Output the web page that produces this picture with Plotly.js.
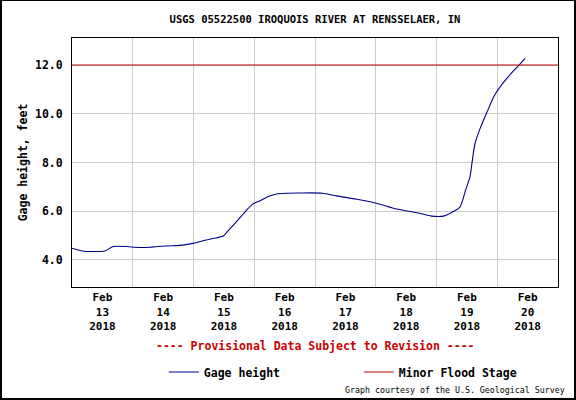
<!DOCTYPE html>
<html>
<head>
<meta charset="utf-8">
<script src="https://cdn.plot.ly/plotly-3.0.1.min.js"></script>
<style>
  html, body { margin: 0; padding: 0; background: #fff; }
  #wrap { position: relative; width: 576px; height: 400px; }
  #chart { position: absolute; left: 0; top: 0; width: 576px; height: 400px; }
  #frame { position: absolute; left: 0; top: 0; width: 576px; height: 400px; box-sizing: border-box;
           border: 2px solid #000; border-top-width: 1px; pointer-events: none; }
</style>
</head>
<body>
<div id="wrap"><div id="chart"></div><div id="frame"></div></div>
<script>
// ---- data ----
const times = [
  "2018-02-13 00:00", "2018-02-13 04:00", "2018-02-13 13:00", "2018-02-13 16:15", "2018-02-13 21:45",
  "2018-02-14 01:00", "2018-02-14 06:45", "2018-02-14 10:45", "2018-02-14 15:30", "2018-02-14 20:30",
  "2018-02-14 23:45", "2018-02-15 03:45", "2018-02-15 07:45", "2018-02-15 11:45", "2018-02-15 13:00",
  "2018-02-15 17:00", "2018-02-15 21:00", "2018-02-15 23:30", "2018-02-16 02:15", "2018-02-16 05:30",
  "2018-02-16 08:45", "2018-02-16 12:45", "2018-02-16 18:00", "2018-02-17 03:00", "2018-02-17 08:30",
  "2018-02-17 16:30", "2018-02-18 00:15", "2018-02-18 08:15", "2018-02-18 16:15", "2018-02-18 22:00",
  "2018-02-19 02:45", "2018-02-19 06:30", "2018-02-19 09:15", "2018-02-19 11:30", "2018-02-19 13:15",
  "2018-02-19 14:00", "2018-02-19 15:15", "2018-02-19 17:15", "2018-02-19 19:45", "2018-02-19 23:00",
  "2018-02-20 03:45", "2018-02-20 08:15", "2018-02-20 11:00"
];
const gageHeight = [
  4.48, 4.37, 4.37, 4.55, 4.55,
  4.52, 4.52, 4.56, 4.58, 4.62,
  4.68, 4.79, 4.88, 4.98, 5.12,
  5.57, 6.05, 6.30, 6.43, 6.60,
  6.71, 6.74, 6.75, 6.74, 6.63,
  6.49, 6.33, 6.09, 5.94, 5.80,
  5.80, 5.98, 6.17, 6.87, 7.42,
  7.97, 8.79, 9.40, 10.02, 10.77,
  11.45, 11.96, 12.27
];
const floodStage = 12.0;
const xStart = "2018-02-13 00:00";
const xEnd = "2018-02-21 00:00";
const yRange = [2.89, 13.11];
const yTicks = [4, 6, 8, 10, 12];

const titleText = "USGS 05522500 IROQUOIS RIVER AT RENSSELAER, IN";
const yTitle = "Gage height, feet";
const seriesNames = ["Gage height", "Minor Flood Stage"];
const noteText = "---- Provisional Data Subject to Revision ----";
const creditText = "Graph courtesy of the U.S. Geological Survey";

const MONO = "DejaVu Sans Mono, Liberation Mono, monospace";
const boldFont = (size, color) => ({ family: MONO, size: size, color: color || "#000", weight: "bold" });

const traces = [
  { x: times, y: gageHeight, type: "scatter", mode: "lines", name: seriesNames[0],
    line: { color: "#00008b", width: 1.1, shape: "spline", smoothing: 0.7 } },
  { x: [xStart, xEnd], y: [floodStage, floodStage], type: "scatter", mode: "lines", name: seriesNames[1],
    line: { color: "#c00000", width: 1.1 } }
];

const layout = {
  width: 576, height: 400,
  margin: { l: 72, r: 18, t: 38, b: 113, pad: 0 },
  paper_bgcolor: "#fff", plot_bgcolor: "#fff",
  showlegend: true,
  title: { text: titleText, font: boldFont(10.5), x: 0.5, xref: "paper", y: 1 - 19/400, yref: "container", yanchor: "middle", xanchor: "center" },
  xaxis: {
    type: "date", range: [xStart, xEnd],
    tickmode: "linear", tick0: xStart, dtick: 86400000,
    ticklabelmode: "period", tickformat: "%b<br>%d<br>%Y",
    ticks: "", showgrid: true, gridcolor: "#cccccc", gridwidth: 1,
    showline: true, linecolor: "#000", linewidth: 1, mirror: true,
    tickfont: boldFont(11), zeroline: false, fixedrange: true
  },
  yaxis: {
    range: yRange, tickmode: "array", tickvals: yTicks, tickformat: ".1f",
    ticks: "", ticklabelstandoff: 6, showgrid: true, gridcolor: "#cccccc", gridwidth: 1,
    showline: true, linecolor: "#000", linewidth: 1, mirror: true,
    tickfont: boldFont(11.5), zeroline: false,
    title: { text: yTitle, font: boldFont(11.5), standoff: 4 }
  },
  legend: {
    orientation: "h", x: 0.189, xanchor: "left", y: (287 - 372) / 249, yanchor: "middle",
    font: boldFont(11.5), entrywidth: 150, entrywidthmode: "pixels", bgcolor: "rgba(0,0,0,0)"
  },
  annotations: [
    { text: noteText, xref: "paper", yref: "paper", x: 0.5, y: (287 - 345.7) / 249,
      xanchor: "center", yanchor: "middle", showarrow: false, font: boldFont(11.5, "#cc0000") },
    { text: creditText, xref: "paper", yref: "paper", x: (567 - 72) / 486, y: (287 - 390.3) / 249,
      xanchor: "right", yanchor: "middle", showarrow: false, font: { family: MONO, size: 8.3, color: "#000" } }
  ]
};

Plotly.newPlot("chart", traces, layout, { staticPlot: true, displayModeBar: false });
</script>
</body>
</html>
